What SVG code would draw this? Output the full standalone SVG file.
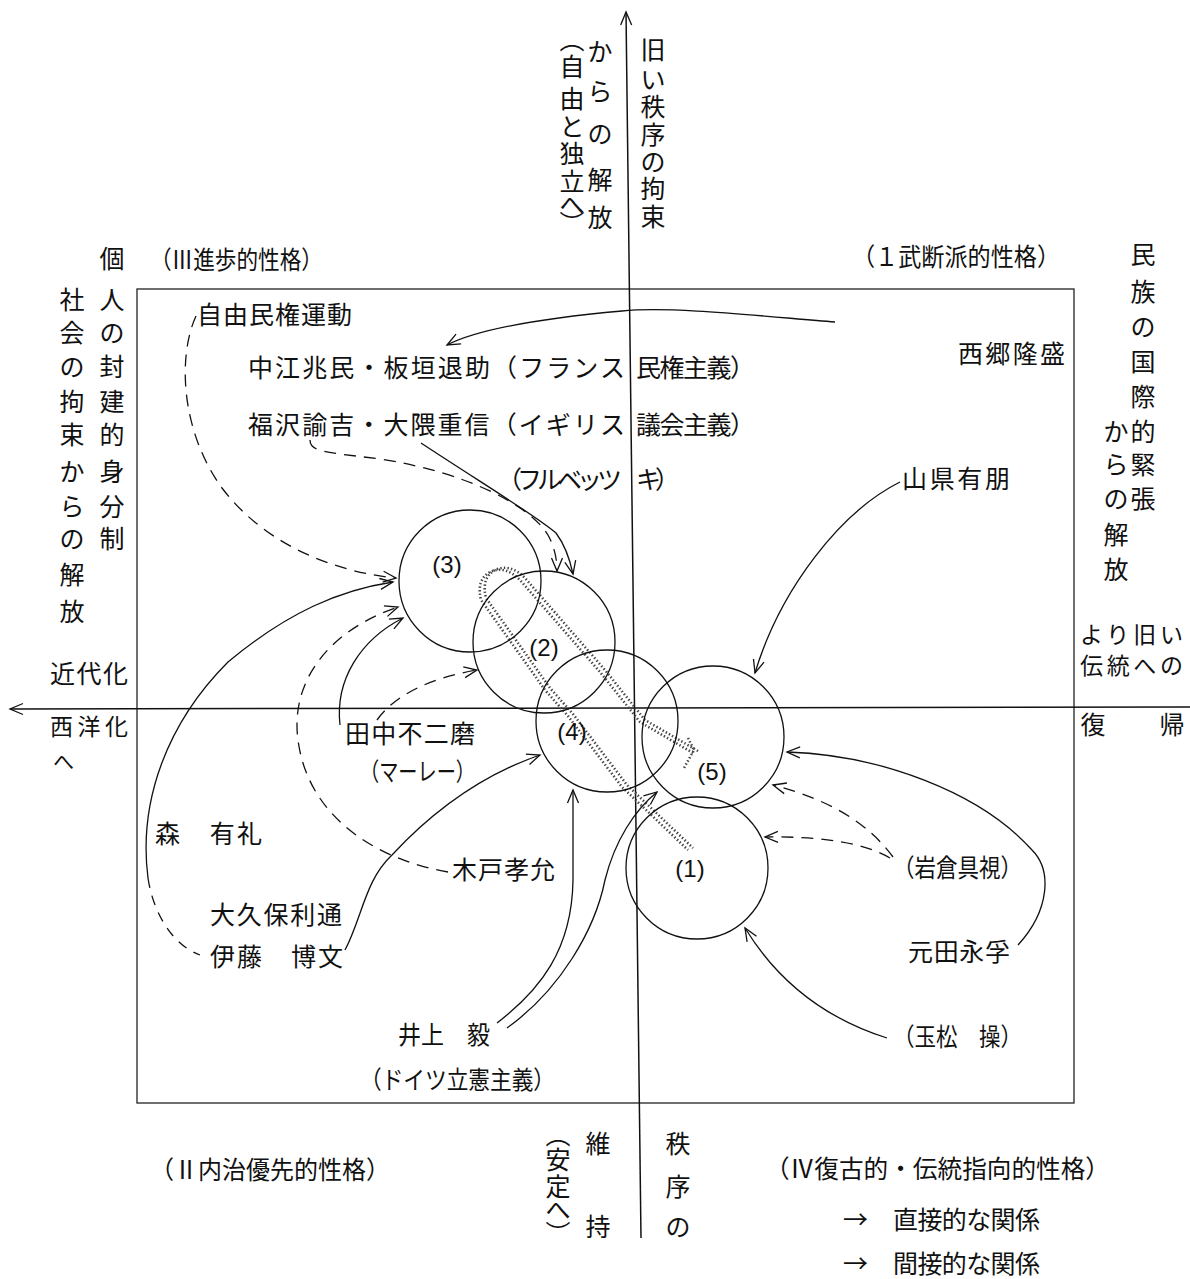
<svg xmlns="http://www.w3.org/2000/svg" width="1190" height="1279" viewBox="0 0 1190 1279">
<defs>
<style>
.t{font-family:"Noto Sans CJK JP","Noto Sans CJK SC",sans-serif;font-size:25px;fill:#111;dominant-baseline:central}
.sm{font-size:23px}
.xs{font-size:21px}
.n{font-family:"Liberation Sans",sans-serif;font-size:24px;fill:#111;dominant-baseline:central;text-anchor:middle}
.c{fill:none;stroke:#111;stroke-width:1.3}
.ax{fill:none;stroke:#111;stroke-width:1.5;marker-end:url(#ah)}
.box{fill:none;stroke:#222;stroke-width:1.3}
.s{fill:none;stroke:#111;stroke-width:1.3;marker-end:url(#ah)}
.d{fill:none;stroke:#111;stroke-width:1.3;stroke-dasharray:12 8;marker-end:url(#ah)}
.dn{fill:none;stroke:#111;stroke-width:1.3;stroke-dasharray:10 8}
.band{fill:none;stroke:#444;stroke-width:2.6;stroke-dasharray:1.4 2.2;stroke-linejoin:round}
</style>
<marker id="ah" viewBox="-14 -7 16 14" refX="0" refY="0" markerWidth="16" markerHeight="14" markerUnits="userSpaceOnUse" orient="auto">
<path d="M-13,-5.5 L0,0 L-13,5.5" fill="none" stroke="#111" stroke-width="1.3"/>
</marker>
</defs>
<rect width="1190" height="1279" fill="#fff"/>

<g id="frame">
<rect class="box" x="137" y="289" width="937" height="814"/>
<path class="ax" d="M641 1238 L626 12"/>
<path class="ax" d="M1190 707 L10 709"/>
</g>

<g id="axis-labels">
<text class="t" text-anchor="middle" x="653 653 653 653 653 653 653" y="48 78 105 133 160 187 215">旧い秩序の拘束</text>
<text class="t" text-anchor="middle" x="600 600 600 600 600" y="50 90 132 178 216">からの解放</text>
<text class="t" text-anchor="middle" x="572 572 572 572 572 572 572 572" y="38 65 97 125 152 180 203 222">︵自由と独立へ︶</text>
<text class="t" text-anchor="middle" x="112" y="257">個</text>
<text class="t" x="150" y="258" textLength="173" lengthAdjust="spacingAndGlyphs">（Ⅲ進歩的性格）</text>
<text class="t" text-anchor="middle" x="112 112 112 112 112 112 112 112" y="298 331 365 400 433 470 505 537">人の封建的身分制</text>
<text class="t" text-anchor="middle" x="72 72 72 72 72 72 72 72 72 72" y="298 331 365 400 433 470 505 537 573 610">社会の拘束からの解放</text>
<text class="t" x="852" y="255" textLength="208" lengthAdjust="spacingAndGlyphs">（１武断派的性格）</text>
<text class="t" text-anchor="middle" x="1143 1143 1143 1143 1143 1143 1143 1143" y="253 290 325 360 395 430 463 497">民族の国際的緊張</text>
<text class="t" text-anchor="middle" x="1116 1116 1116 1116 1116" y="430 463 497 533 568">からの解放</text>
<text class="t" x="50" y="672" textLength="78">近代化</text>
<text class="t sm" x="50" y="725" textLength="78">西洋化</text>
<text class="t xs" x="53" y="760">へ</text>
<text class="t sm" x="1080" y="633" textLength="103">より旧い</text>
<text class="t sm" x="1080" y="664" textLength="103">伝統への</text>
<text class="t" text-anchor="middle" x="1093 1172" y="723 723">復帰</text>
<text class="t" x="150" y="1168" textLength="240" lengthAdjust="spacingAndGlyphs">（Ⅱ内治優先的性格）</text>
<text class="t" text-anchor="middle" x="598 598" y="1142 1225">維持</text>
<text class="t" text-anchor="middle" x="558 558 558 558 558" y="1133 1158 1185 1208 1232">︵安定へ︶</text>
<text class="t" text-anchor="middle" x="678 678 678" y="1142 1185 1225">秩序の</text>
<text class="t" x="765" y="1167" textLength="345" lengthAdjust="spacingAndGlyphs">（Ⅳ復古的・伝統指向的性格）</text>
</g>

<g id="legend">
<text class="t" x="843" y="1218">→</text>
<text class="t" x="893" y="1218" textLength="147">直接的な関係</text>
<text class="t" x="843" y="1262">→</text>
<text class="t" x="893" y="1262" textLength="147">間接的な関係</text>
</g>

<g id="band">
<path class="band" d="M693 753 L640 722 L600 672 L520 580 Q505 565 490 572 Q476 580 481 600 L545 690 L568 716 L622 787 L688 850"/>
<path class="band" transform="translate(5,-2)" d="M693 753 L640 722 L600 672 L520 580 Q505 565 490 572 Q476 580 481 600 L545 690 L568 716 L622 787 L688 850"/>
<path class="band" d="M688 738 L694 750 L684 768"/>
</g>

<g id="circle-3"><circle class="c" cx="470" cy="581" r="71"/><text class="n" x="447" y="564">(3)</text></g>
<g id="circle-2"><circle class="c" cx="544" cy="642" r="71"/><text class="n" x="544" y="647">(2)</text></g>
<g id="circle-4"><circle class="c" cx="607" cy="721" r="71"/><text class="n" x="572" y="731">(4)</text></g>
<g id="circle-5"><circle class="c" cx="713" cy="737" r="71"/><text class="n" x="712" y="771">(5)</text></g>
<g id="circle-1"><circle class="c" cx="697" cy="868" r="71"/><text class="n" x="690" y="868">(1)</text></g>

<g id="node-jiyuminken"><text class="t" x="197" y="313" textLength="155">自由民権運動</text></g>
<g id="node-nakae"><text class="t" x="248" y="366" textLength="377">中江兆民・板垣退助（フランス</text><text class="t" x="636" y="366" textLength="119">民権主義）</text></g>
<g id="node-fukuzawa"><text class="t" x="248" y="423" textLength="377">福沢諭吉・大隈重信（イギリス</text><text class="t" x="636" y="423" textLength="119">議会主義）</text></g>
<g id="node-verbeck"><text class="t" x="497" y="478" textLength="125">（フルベッツ</text><text class="t" x="636" y="478" textLength="44">キ）</text></g>
<g id="node-saigo"><text class="t" x="958" y="352" textLength="107">西郷隆盛</text></g>
<g id="node-yamagata"><text class="t" x="902" y="477" textLength="108">山県有朋</text></g>
<g id="node-tanaka"><text class="t" x="345" y="732" textLength="130">田中不二磨</text><text class="t" x="360" y="770" textLength="115" lengthAdjust="spacingAndGlyphs">（マーレー）</text></g>
<g id="node-mori"><text class="t" x="155" y="832" textLength="107">森　有礼</text></g>
<g id="node-kido"><text class="t" x="452" y="868" textLength="103">木戸孝允</text></g>
<g id="node-okubo"><text class="t" x="210" y="913" textLength="132">大久保利通</text></g>
<g id="node-ito"><text class="t" x="210" y="955" textLength="133">伊藤　博文</text></g>
<g id="node-inoue"><text class="t" x="398" y="1033" textLength="92" lengthAdjust="spacingAndGlyphs">井上　毅</text><text class="t" x="360" y="1078" textLength="195" lengthAdjust="spacingAndGlyphs">（ドイツ立憲主義）</text></g>
<g id="node-iwakura"><text class="t" x="893" y="866" textLength="129" lengthAdjust="spacingAndGlyphs">（岩倉具視）</text></g>
<g id="node-motoda"><text class="t" x="908" y="950" textLength="102">元田永孚</text></g>
<g id="node-tamamatsu"><text class="t" x="893" y="1035" textLength="129" lengthAdjust="spacingAndGlyphs">（玉松　操）</text></g>

<g id="connectors">
<path class="s" d="M835 322 C760 316 670 306 622 311 C545 318 480 328 447 345"/>
<path class="d" d="M196 316 C178 355 180 430 222 488 C265 545 335 572 396 578"/>
<path class="d" d="M310 440 C310 452 325 452 380 459 C465 472 530 505 548 535 C555 548 557 560 557 571"/>
<path class="s" d="M421 443 C480 482 535 515 556 533 C565 545 570 560 573 574"/>
<path class="s" d="M345 950 C362 918 365 880 392 855 C432 812 482 775 540 755"/>
<path class="s" d="M148 878 C138 800 168 722 228 662 C288 612 340 590 393 582"/>
<path class="dn" d="M148 878 C153 912 172 945 200 955"/>
<path class="d" d="M448 872 C378 860 308 818 298 740 C290 680 330 630 398 607"/>
<path class="s" d="M340 725 C335 680 360 640 403 618"/>
<path class="d" d="M377 720 C395 695 430 678 477 670"/>
<path class="s" d="M497 1023 C540 990 572 950 573 880 L573 790"/>
<path class="s" d="M507 1028 C560 990 595 930 605 880 C615 840 635 810 657 792"/>
<path class="s" d="M900 482 C840 512 780 590 755 673"/>
<path class="s" d="M1018 945 C1050 910 1052 870 1032 850 C980 792 880 755 787 752"/>
<path class="d" d="M893 857 C868 823 830 800 773 785"/>
<path class="d" d="M890 858 C868 845 830 836 765 837"/>
<path class="s" d="M887 1038 C830 1020 780 985 745 928"/>
</g>
</svg>
